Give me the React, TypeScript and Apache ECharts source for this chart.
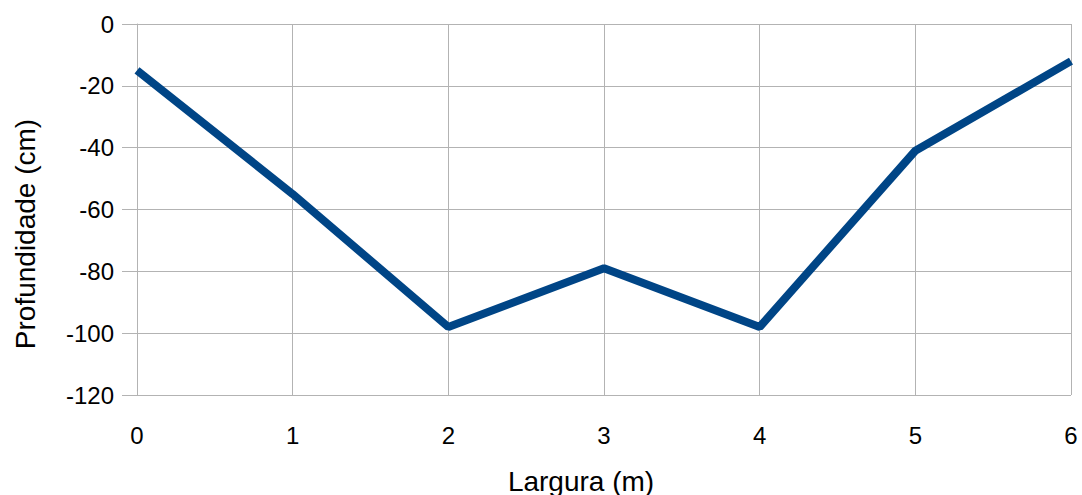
import React, { useEffect, useRef } from "react";
import * as echarts from "echarts";

const widths = [0, 1, 2, 3, 4, 5, 6];
const depths = [-15, -55, -98, -79, -98, -41, -12];
const xTitle = "Largura (m)";
const yTitle = "Profundidade (cm)";

export default function App() {
  const ref = useRef<HTMLDivElement>(null);
  useEffect(() => {
    if (!ref.current) return;
    const chart = echarts.init(ref.current, undefined, { renderer: "svg" });
    const font = "Liberation Sans";
    const grid = "#b3b3b3";
    chart.setOption({
      animation: false,
      grid: { left: 137, right: 11, top: 24, bottom: 100, containLabel: false },
      xAxis: {
        type: "value",
        min: 0,
        max: 6,
        interval: 1,
        axisLine: { show: true, lineStyle: { color: grid, width: 1 } },
        axisTick: { show: true, length: 12, lineStyle: { color: grid } },
        splitLine: { show: true, lineStyle: { color: grid, width: 1 } },
        axisLabel: { color: "#000", fontSize: 24, fontFamily: font, margin: 28 },
      },
      yAxis: {
        type: "value",
        min: -120,
        max: 0,
        interval: 20,
        axisLine: { show: true, lineStyle: { color: grid, width: 1 } },
        axisTick: { show: true, length: 15, lineStyle: { color: grid } },
        splitLine: { show: true, lineStyle: { color: grid, width: 1 } },
        axisLabel: { color: "#000", fontSize: 24, fontFamily: font, margin: 23 },
      },
      graphic: [
        {
          type: "text",
          x: 581,
          y: 481,
          style: {
            text: xTitle,
            fill: "#000",
            fontSize: 28,
            fontFamily: font,
            align: "center",
            verticalAlign: "middle",
          },
        },
        {
          type: "text",
          x: 25,
          y: 234,
          rotation: Math.PI / 2,
          style: {
            text: yTitle,
            fill: "#000",
            fontSize: 28,
            fontFamily: font,
            align: "center",
            verticalAlign: "middle",
          },
        },
      ],
      series: [
        {
          type: "line",
          data: widths.map((w, i) => [w, depths[i]]),
          showSymbol: false,
          symbol: "none",
          lineStyle: { color: "#004586", width: 8 },
        },
      ],
    });
    return () => chart.dispose();
  }, []);
  return (
    <div
      ref={ref}
      style={{ position: "fixed", left: 0, top: 0, width: 1082, height: 495, background: "#fff" }}
    />
  );
}
